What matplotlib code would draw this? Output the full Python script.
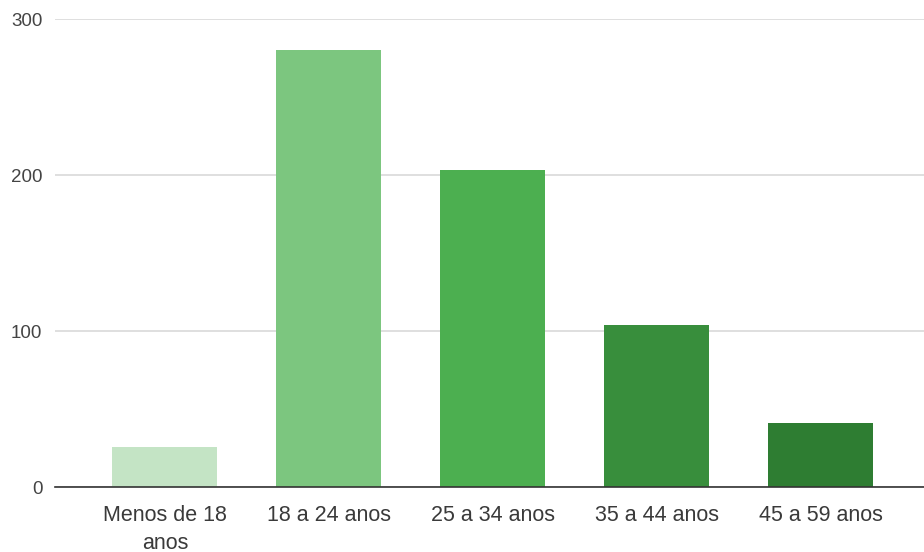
import matplotlib
matplotlib.use("Agg")
import matplotlib.pyplot as plt

# age groups and number of respondents
categories = ["Menos de 18\nanos", "18 a 24 anos", "25 a 34 anos", "35 a 44 anos", "45 a 59 anos"]
counts = [26, 280, 203, 104, 41]
bar_colors = ["#c4e4c5", "#7cc67f", "#4caf50", "#388e3c", "#2e7d32"]
y_ticks = [0, 100, 200, 300]

plt.rcParams["font.family"] = ["Liberation Sans", "DejaVu Sans"]

fig = plt.figure(figsize=(9.24, 5.52), dpi=100)
ax = fig.add_axes([0.0595, 0.1175, 0.9405, 0.848])

x = range(len(categories))
ax.bar(x, counts, width=0.64, color=bar_colors, zorder=3)

ax.set_xlim(-0.67, 4.63)
ax.set_ylim(0, 300)
ax.set_yticks(y_ticks)
ax.set_xticks(list(x))
ax.set_xticklabels(categories, fontsize=15.5, color="#3a3a3a", linespacing=1.4)
ax.tick_params(axis="x", length=0, pad=13)
ax.tick_params(axis="y", length=0, pad=9, labelsize=13.5, labelcolor="#444444")

ax.yaxis.grid(True, color="#d6d6d6", linewidth=1.1, zorder=0)
for side in ["top", "right", "left"]:
    ax.spines[side].set_visible(False)
ax.spines["bottom"].set_color("#333333")
ax.spines["bottom"].set_linewidth(1.2)
ax.spines["bottom"].set_zorder(4)

fig.savefig("out.png", dpi=100)
